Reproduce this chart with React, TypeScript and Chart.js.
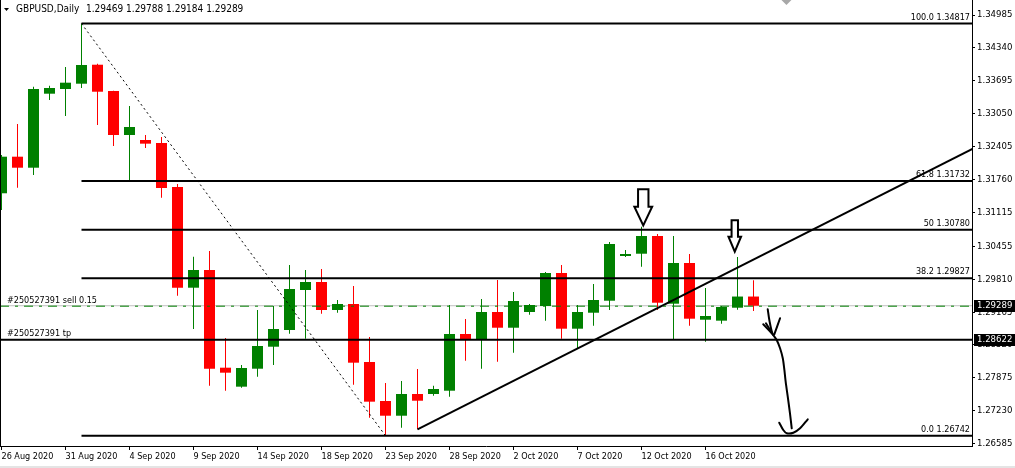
import React, { useEffect, useRef } from 'react';
import { Chart, registerables } from 'chart.js';

Chart.register(...registerables);

// ---------- DATA ----------
const symbolTitle = 'GBPUSD,Daily';

const dates = [
  '26 Aug 2020', '27 Aug 2020', '28 Aug 2020', '30 Aug 2020', '31 Aug 2020',
  '1 Sep 2020', '2 Sep 2020', '3 Sep 2020', '4 Sep 2020', '6 Sep 2020', '7 Sep 2020',
  '8 Sep 2020', '9 Sep 2020', '10 Sep 2020', '11 Sep 2020', '13 Sep 2020', '14 Sep 2020',
  '15 Sep 2020', '16 Sep 2020', '17 Sep 2020', '18 Sep 2020', '20 Sep 2020', '21 Sep 2020',
  '22 Sep 2020', '23 Sep 2020', '24 Sep 2020', '25 Sep 2020', '27 Sep 2020', '28 Sep 2020',
  '29 Sep 2020', '30 Sep 2020', '1 Oct 2020', '2 Oct 2020', '4 Oct 2020', '5 Oct 2020',
  '6 Oct 2020', '7 Oct 2020', '8 Oct 2020', '9 Oct 2020', '11 Oct 2020', '12 Oct 2020',
  '13 Oct 2020', '14 Oct 2020', '15 Oct 2020', '16 Oct 2020', '18 Oct 2020', '19 Oct 2020',
  '20 Oct 2020',
];

const opens = [
  1.31492, 1.32209, 1.31993, 1.33443, 1.33535, 1.33639, 1.34011, 1.33496, 1.32634, 1.32536,
  1.32477, 1.31615, 1.29642, 1.29989, 1.28075, 1.27703, 1.28055, 1.28486, 1.28813, 1.29597,
  1.29754, 1.29205, 1.29323, 1.28186, 1.27422, 1.27134, 1.27560, 1.27560, 1.27624, 1.28735,
  1.28637, 1.29166, 1.28858, 1.29166, 1.29284, 1.29930, 1.28839, 1.29152, 1.29387, 1.30263,
  1.30308, 1.30655, 1.29329, 1.30126, 1.29015, 1.28996, 1.29250, 1.29469,
];
const highs = [
  1.32242, 1.32849, 1.33580, 1.33600, 1.33966, 1.34817, 1.34031, 1.33500, 1.33202, 1.32634,
  1.32595, 1.31674, 1.30250, 1.30361, 1.28657, 1.28128, 1.29205, 1.29284, 1.30087, 1.29989,
  1.30009, 1.29401, 1.29676, 1.28676, 1.27775, 1.27814, 1.28049, 1.27722, 1.29303, 1.29029,
  1.29421, 1.29793, 1.29558, 1.29323, 1.29950, 1.30087, 1.29303, 1.29715, 1.30538, 1.30381,
  1.30837, 1.30694, 1.30655, 1.30302, 1.29636, 1.29284, 1.30244, 1.29788,
];
const lows = [
  1.31164, 1.31601, 1.31850, 1.33320, 1.33006, 1.33555, 1.32830, 1.32418, 1.31752, 1.32379,
  1.31406, 1.29485, 1.28833, 1.27722, 1.27624, 1.27683, 1.27898, 1.28128, 1.28741, 1.28643,
  1.29133, 1.29152, 1.27742, 1.27095, 1.26742, 1.26899, 1.26868, 1.27526, 1.27507, 1.28212,
  1.28055, 1.28192, 1.28369, 1.29113, 1.28996, 1.28643, 1.28447, 1.28898, 1.29205, 1.30244,
  1.30054, 1.29205, 1.28618, 1.28898, 1.28584, 1.28937, 1.29211, 1.29184,
];
const closes = [
  1.32209, 1.31993, 1.33535, 1.33555, 1.33659, 1.34005, 1.33482, 1.32634, 1.32791, 1.32464,
  1.31596, 1.29642, 1.29989, 1.28055, 1.27977, 1.28069, 1.28500, 1.28833, 1.29617, 1.29754,
  1.29205, 1.29323, 1.28173, 1.27409, 1.27134, 1.27560, 1.27428, 1.27657, 1.28735, 1.28637,
  1.29166, 1.28858, 1.29382, 1.29303, 1.29930, 1.28839, 1.29166, 1.29401, 1.30498, 1.30302,
  1.30655, 1.29348, 1.30126, 1.29035, 1.29088, 1.29264, 1.29469, 1.29289,
];

const priceTicks = [
  1.34985, 1.34340, 1.33695, 1.33050, 1.32405, 1.31760, 1.31115, 1.30455,
  1.29810, 1.29165, 1.28520, 1.27875, 1.27230, 1.26585,
];
const dateTickIndexes = [0, 4, 8, 12, 16, 20, 24, 28, 32, 36, 40, 44];

const fibNames = ['100.0', '61.8', '50', '38.2', '0.0'];
const fibPrices = [1.34817, 1.31732, 1.30780, 1.29827, 1.26742];
const fibStartIndex = 5;
const fibSwing = [{ x: 5, y: 1.34817 }, { x: 24, y: 1.26742 }];
const trendLine = [{ x: 26, y: 1.26868 }, { x: 62, y: 1.32572 }];

const bidPrice = 1.29289;
const orderPrice = 1.2928;
const tpPrice = 1.28622;
const orderLabel = '#250527391 sell 0.15';
const tpLabel = '#250527391 tp';

const arrowTips = [{ x: 40.11, y: 1.30861 }, { x: 45.83, y: 1.30348 }];

const sketchStrokes = [
  [
    { x: 47.89, y: 1.29219 }, { x: 47.99, y: 1.29009 }, { x: 48.18, y: 1.28749 },
    { x: 48.45, y: 1.28618 }, { x: 48.66, y: 1.28455 }, { x: 48.83, y: 1.28259 },
    { x: 48.93, y: 1.2803 }, { x: 49.01, y: 1.278 }, { x: 49.14, y: 1.27507 },
    { x: 49.28, y: 1.27181 }, { x: 49.39, y: 1.26888 },
  ],
  [{ x: 47.61, y: 1.28925 }, { x: 48.24, y: 1.28716 }],
  [{ x: 47.78, y: 1.28945 }, { x: 48.14, y: 1.28761 }],
  [{ x: 48.66, y: 1.29043 }, { x: 48.3, y: 1.28729 }],
  [
    { x: 48.61, y: 1.26997 }, { x: 48.86, y: 1.26854 }, { x: 49.08, y: 1.2679 },
    { x: 49.49, y: 1.26801 }, { x: 49.91, y: 1.26888 }, { x: 50.39, y: 1.27064 },
  ],
];

const shiftMarkerIndex = 49.06;

const xMin = -0.09375;
const xMax = 60.65625;
const yMin = 1.265407;
const yMax = 1.352789;

// ---------- STYLE ----------
const FONT_FAMILY = '"DejaVu Sans Condensed", "Liberation Sans", sans-serif';
const FONT_SIZE = 9;
const AXIS_Y_FONT_SIZE = 9.5;
const HEADER_FONT_SIZE = 10;
const BULL = '#008000';
const BEAR = '#ff0000';

const arrowShapes = [
  { shaftHalf: 5.2, headHalf: 8.9, headH: 18.8, totalH: 36.2 },
  { shaftHalf: 3.2, headHalf: 6.3, headH: 15, totalH: 31.4 },
];

const candleColors = opens.map((o, i) => (closes[i] >= o ? BULL : BEAR));

const lineDs = (data: any[], extra: any = {}) => ({
  type: 'line' as const,
  data,
  borderColor: '#000000',
  borderWidth: 2,
  pointRadius: 0,
  pointHoverRadius: 0,
  fill: false,
  tension: 0,
  clip: 0,
  order: 0,
  ...extra,
});

const overlayPlugin = {
  id: 'mtOverlay',
  beforeDraw(chart: any) {
    const { ctx, width, height } = chart;
    ctx.save();
    ctx.fillStyle = '#ffffff';
    ctx.fillRect(0, 0, width, height);
    ctx.restore();
  },
  afterDatasetsDraw(chart: any) {
    const { ctx, chartArea } = chart;
    const xs = chart.scales.x;
    const ys = chart.scales.y;
    ctx.save();
    ctx.beginPath();
    ctx.rect(chartArea.left, chartArea.top, chartArea.right - chartArea.left, chartArea.bottom - chartArea.top);
    ctx.clip();

    // outline arrows
    arrowTips.forEach((tip, i) => {
      const s = arrowShapes[i];
      const tx = xs.getPixelForValue(tip.x);
      const ty = ys.getPixelForValue(tip.y);
      ctx.beginPath();
      ctx.moveTo(tx - s.shaftHalf, ty - s.totalH);
      ctx.lineTo(tx + s.shaftHalf, ty - s.totalH);
      ctx.lineTo(tx + s.shaftHalf, ty - s.headH);
      ctx.lineTo(tx + s.headHalf, ty - s.headH);
      ctx.lineTo(tx, ty);
      ctx.lineTo(tx - s.headHalf, ty - s.headH);
      ctx.lineTo(tx - s.shaftHalf, ty - s.headH);
      ctx.closePath();
      ctx.fillStyle = '#ffffff';
      ctx.fill();
      ctx.lineWidth = 2;
      ctx.strokeStyle = '#000000';
      ctx.lineJoin = 'miter';
      ctx.stroke();
    });

    ctx.font = `${FONT_SIZE}px ${FONT_FAMILY}`;
    ctx.fillStyle = '#000000';
    ctx.textBaseline = 'alphabetic';

    // fibo labels
    ctx.textAlign = 'right';
    fibPrices.forEach((p, i) => {
      const y = ys.getPixelForValue(p);
      ctx.fillText(`${fibNames[i]} ${p.toFixed(5)}`, chartArea.right - 2, y - 4);
    });

    // order labels
    ctx.textAlign = 'left';
    ctx.fillText(orderLabel, chartArea.left + 7, ys.getPixelForValue(orderPrice) - 3);
    ctx.fillText(tpLabel, chartArea.left + 7, ys.getPixelForValue(tpPrice) - 4);

    ctx.restore();
  },
  afterDraw(chart: any) {
    const { ctx, chartArea, width, height } = chart;
    const xs = chart.scales.x;
    const ys = chart.scales.y;
    ctx.save();

    // left frame line
    ctx.strokeStyle = '#000000';
    ctx.lineWidth = 1;
    ctx.beginPath();
    ctx.moveTo(chartArea.left + 0.5, chartArea.top);
    ctx.lineTo(chartArea.left + 0.5, chartArea.bottom);
    ctx.stroke();

    // header
    ctx.fillStyle = '#000000';
    ctx.beginPath();
    ctx.moveTo(4, 8);
    ctx.lineTo(9, 8);
    ctx.lineTo(6.5, 11);
    ctx.closePath();
    ctx.fill();
    ctx.font = `${HEADER_FONT_SIZE}px ${FONT_FAMILY}`;
    ctx.textAlign = 'left';
    ctx.textBaseline = 'alphabetic';
    ctx.fillText(symbolTitle, 16, 12);
    const last = opens.length - 1;
    ctx.fillText(
      `${opens[last].toFixed(5)} ${highs[last].toFixed(5)} ${lows[last].toFixed(5)} ${closes[last].toFixed(5)}`,
      86, 12,
    );

    // shift marker
    const sx = xs.getPixelForValue(shiftMarkerIndex);
    ctx.fillStyle = '#a8a8a8';
    ctx.beginPath();
    ctx.moveTo(sx - 5, chartArea.top);
    ctx.lineTo(sx + 5, chartArea.top);
    ctx.lineTo(sx, chartArea.top + 5);
    ctx.closePath();
    ctx.fill();

    // price boxes on axis
    ctx.font = `${AXIS_Y_FONT_SIZE}px ${FONT_FAMILY}`;
    [bidPrice, tpPrice].forEach((p) => {
      const y = Math.round(ys.getPixelForValue(p));
      ctx.fillStyle = '#000000';
      ctx.fillRect(chartArea.right + 2, y - 6, width - chartArea.right - 2, 12);
      ctx.fillStyle = '#ffffff';
      ctx.textBaseline = 'middle';
      ctx.fillText(p.toFixed(5), chartArea.right + 5, y);
    });

    // bottom strip
    ctx.fillStyle = '#e4e4e4';
    ctx.fillRect(0, height - 2, width, 2);
    ctx.restore();
  },
};

export default function App() {
  const ref = useRef<HTMLCanvasElement>(null);

  useEffect(() => {
    document.body.style.margin = '0';
    const canvas = ref.current;
    if (!canvas) return;

    const datasets: any[] = [
      {
        type: 'bar',
        data: lows.map((l, i) => ({ x: i, y: [l, highs[i]] })),
        backgroundColor: candleColors,
        borderWidth: 0,
        grouped: false,
        maxBarThickness: 1,
        order: 2,
      },
      {
        type: 'bar',
        data: opens.map((o, i) => ({ x: i, y: [o, closes[i]] })),
        backgroundColor: candleColors,
        borderWidth: 0,
        grouped: false,
        maxBarThickness: 11,
        minBarLength: 1,
        order: 1,
      },
      lineDs([{ x: xMin, y: bidPrice }, { x: xMax + 1, y: bidPrice }], { borderColor: '#c0c0c0', borderWidth: 1, order: 3 }),
      lineDs([{ x: xMin, y: orderPrice }, { x: xMax + 1, y: orderPrice }], { borderColor: BULL, borderWidth: 1, borderDash: [9, 6, 3, 6] }),
      lineDs([{ x: xMin, y: tpPrice }, { x: xMax + 1, y: tpPrice }]),
      ...fibPrices.map((p) => lineDs([{ x: fibStartIndex, y: p }, { x: xMax + 1, y: p }])),
      lineDs(fibSwing, { borderWidth: 1, borderDash: [2, 3] }),
      lineDs(trendLine),
      ...sketchStrokes.map((s) => lineDs(s, { tension: 0.3, borderCapStyle: 'round', borderJoinStyle: 'round' })),
    ];

    const chart = new Chart(canvas, {
      type: 'bar',
      data: { datasets },
      options: {
        responsive: false,
        animation: false,
        devicePixelRatio: 1,
        events: [],
        layout: { padding: 0, autoPadding: false },
        plugins: { legend: { display: false }, tooltip: { enabled: false } },
        scales: {
          x: {
            type: 'linear',
            min: xMin,
            max: xMax,
            offset: false,
            grid: { display: true, drawOnChartArea: false, drawTicks: true, tickLength: 4, color: '#000000', offset: false },
            border: { display: true, color: '#000000', width: 1 },
            ticks: {
              autoSkip: false,
              maxRotation: 0,
              minRotation: 0,
              align: 'start',
              padding: 1,
              color: '#000000',
              font: { family: FONT_FAMILY, size: FONT_SIZE },
              callback: (v: any) => dates[Math.round(Number(v))] ?? '',
            },
            afterBuildTicks: (scale: any) => {
              scale.ticks = dateTickIndexes.map((v) => ({ value: v }));
            },
            afterFit: (scale: any) => {
              scale.height = 22;
              scale.paddingLeft = 0;
              scale.paddingRight = 0;
            },
          },
          y: {
            type: 'linear',
            position: 'right',
            min: yMin,
            max: yMax,
            grid: { display: true, drawOnChartArea: false, drawTicks: true, tickLength: 3, color: '#000000' },
            border: { display: true, color: '#000000', width: 1 },
            ticks: {
              autoSkip: false,
              padding: 2,
              color: '#000000',
              font: { family: FONT_FAMILY, size: AXIS_Y_FONT_SIZE },
              callback: (v: any) => Number(v).toFixed(5),
            },
            afterBuildTicks: (scale: any) => {
              scale.ticks = priceTicks.map((v) => ({ value: v }));
            },
            afterFit: (scale: any) => {
              scale.width = 43;
              scale.paddingTop = 0;
              scale.paddingBottom = 0;
            },
          },
        },
      } as any,
      plugins: [overlayPlugin],
    });

    return () => chart.destroy();
  }, []);

  return (
    <div style={{ position: 'absolute', left: 0, top: 0, width: 1015, height: 468 }}>
      <canvas ref={ref} width={1015} height={468} style={{ display: 'block', width: 1015, height: 468 }} />
    </div>
  );
}
